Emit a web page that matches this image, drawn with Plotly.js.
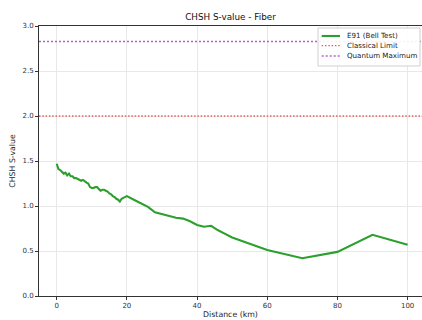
<!DOCTYPE html>
<html><head><meta charset="utf-8">
<script src="https://cdn.plot.ly/plotly-3.0.1.min.js"></script>
<style>html,body{margin:0;padding:0;background:#fff}#c{width:422px;height:320px}</style>
</head><body><div id="c"></div>
<script>
const distance = [0,0.5,1,1.5,2,2.5,3,3.5,4,4.5,5,5.5,6,6.5,7,7.5,8,8.5,9,9.5,10,10.5,11,11.5,12,12.5,13,13.5,14,14.5,15,15.5,16,16.5,17,17.5,18,18.5,19,19.5,20,22,24,26,28,30,32,34,36,38,40,42,44,46,48,50,60,70,80,90,100];
const sValue = [1.47,1.41,1.40,1.38,1.36,1.37,1.34,1.36,1.33,1.33,1.31,1.31,1.30,1.29,1.28,1.29,1.27,1.26,1.25,1.21,1.20,1.20,1.21,1.21,1.19,1.17,1.18,1.18,1.17,1.16,1.14,1.13,1.11,1.10,1.08,1.07,1.05,1.08,1.09,1.10,1.11,1.07,1.03,0.99,0.93,0.91,0.89,0.87,0.86,0.83,0.79,0.77,0.78,0.73,0.69,0.65,0.51,0.42,0.49,0.68,0.57];
const classicalLimit = 2.0;
const quantumMaximum = 2.828;
const seriesNames = ['E91 (Bell Test)', 'Classical Limit', 'Quantum Maximum'];
const xRange = [-5.04, 104.1];
const yRange = [0, 3.0];
const xTicks = [0,20,40,60,80,100];
const yTicks = [0,0.5,1.0,1.5,2.0,2.5,3.0];
const yTickText = ['0.0','0.5','1.0','1.5','2.0','2.5','3.0'];

const font = "DejaVu Sans, sans-serif";
const styles = [
  {color: '#2ca02c', width: 2.1, dash: 'solid'},
  {color: '#ea5a5c', width: 1.4, dash: '1.5px,1.8px'},
  {color: '#b066c4', width: 1.4, dash: '2px,2px'}
];
const traces = [
  {x: distance, y: sValue, mode: 'lines', name: seriesNames[0], line: styles[0]},
  {x: xRange, y: [classicalLimit, classicalLimit], mode: 'lines', name: seriesNames[1], line: styles[1]},
  {x: xRange, y: [quantumMaximum, quantumMaximum], mode: 'lines', name: seriesNames[2], line: styles[2]}
];

// custom compact legend (matplotlib style)
const lg = {x0: 0.7285, x1: 0.9948, y0: 0.8519, y1: 0.9926, lx0: 0.7381, lx1: 0.7859, tx: 0.799, ys: [0.9630, 0.9274, 0.8889]};
const shapes = [{type: 'rect', xref: 'paper', yref: 'paper', x0: lg.x0, x1: lg.x1, y0: lg.y0, y1: lg.y1,
  fillcolor: 'rgba(255,255,255,0.9)', line: {color: '#d0d0d0', width: 1}, layer: 'above'}];
const annotations = [];
seriesNames.forEach((n, i) => {
  shapes.push({type: 'line', xref: 'paper', yref: 'paper', x0: lg.lx0, x1: lg.lx1, y0: lg.ys[i], y1: lg.ys[i],
    line: styles[i], layer: 'above'});
  annotations.push({xref: 'paper', yref: 'paper', x: lg.tx, y: lg.ys[i], xanchor: 'left', yanchor: 'middle',
    text: n, showarrow: false, font: {family: font, size: 7.1, color: '#222'}});
});

const layout = {
  width: 422, height: 320,
  margin: {l: 39, r: 0, t: 26, b: 24},
  paper_bgcolor: '#fff', plot_bgcolor: '#fff',
  font: {family: font, size: 7, color: '#333'},
  title: {text: 'CHSH S-value - Fiber', font: {family: font, size: 8.8, color: '#111'}, x: 0.5, xref: 'paper', y: 0.947, yanchor: 'middle'},
  showlegend: false,
  shapes: shapes,
  annotations: annotations,
  xaxis: {range: xRange, tickvals: xTicks, showgrid: true, gridcolor: '#e8e8e8', gridwidth: 1, zeroline: false,
    showline: true, linecolor: '#333', linewidth: 1, mirror: true, ticks: 'outside', ticklen: 3, tickcolor: '#333',
    tickfont: {family: font, size: 7, color: '#333'},
    title: {text: 'Distance (km)', font: {family: font, size: 7.8, color: '#222'}, standoff: 2}},
  yaxis: {range: yRange, tickvals: yTicks, ticktext: yTickText, showgrid: true, gridcolor: '#e8e8e8', gridwidth: 1, zeroline: false,
    showline: true, linecolor: '#333', linewidth: 1, mirror: true, ticks: 'outside', ticklen: 3, tickcolor: '#333',
    tickfont: {family: font, size: 7, color: '#333'},
    title: {text: 'CHSH S-value', font: {family: font, size: 7.8, color: '#222'}, standoff: 5}}
};
Plotly.newPlot('c', traces, layout, {staticPlot: true, displayModeBar: false});
</script></body></html>
